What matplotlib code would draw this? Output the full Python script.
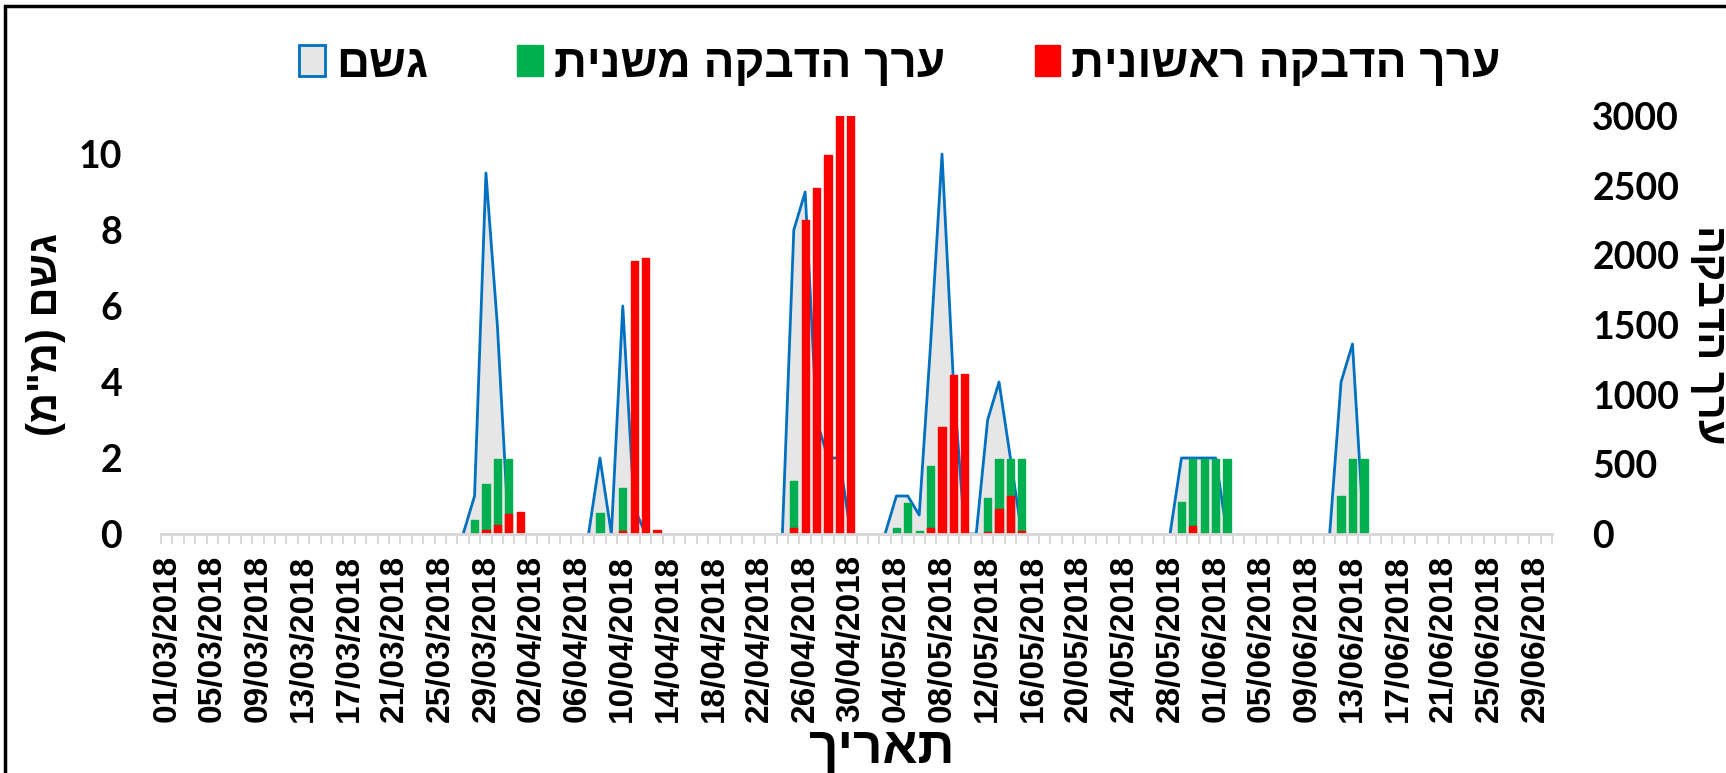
import matplotlib.pyplot as plt
import numpy as np
import pandas as pd
from matplotlib.patches import Patch, Rectangle

# matplotlib has no bidi support, so Hebrew strings are given in visual order
def rtl(s):
    return s[::-1].translate(str.maketrans('()', ')('))

HEB = ['Liberation Sans', 'DejaVu Sans']

dates = pd.date_range('2018-03-01', '2018-06-30', freq='D')
date_labels = [d.strftime('%d/%m/%Y') for d in dates]

# rain (mm), one value per day
rain_mar = [0, 0, 0, 0, 0, 0, 0, 0, 0, 0,
            0, 0, 0, 0, 0, 0, 0, 0, 0, 0,
            0, 0, 0, 0, 0, 0, 0, 1, 9.5, 5.5,
            0]
rain_apr = [0, 0, 0, 0, 0, 0, 0, 2, 0, 6,
            0.7, 0, 0, 0, 0, 0, 0, 0, 0, 0,
            0, 0, 0, 0, 8, 9, 3, 2, 2, 0]
rain_may = [0, 0, 0, 1, 1, 0.5, 5, 10, 4, 0,
            0, 3, 4, 2, 0, 0, 0, 0, 0, 0,
            0, 0, 0, 0, 0, 0, 0, 0, 2, 2,
            2]
rain_jun = [2, 0, 0, 0, 0, 0, 0, 0, 0, 0,
            0, 4, 5, 0, 0, 0, 0, 0, 0, 0,
            0, 0, 0, 0, 0, 0, 0, 0, 0, 0]

# secondary infection value
sec_mar = [0, 0, 0, 0, 0, 0, 0, 0, 0, 0,
           0, 0, 0, 0, 0, 0, 0, 0, 0, 0,
           0, 0, 0, 0, 0, 0, 0, 100, 360, 540,
           540]
sec_apr = [0, 0, 0, 0, 0, 0, 0, 150, 0, 330,
           0, 0, 0, 0, 0, 0, 0, 0, 0, 0,
           0, 0, 0, 0, 380, 0, 0, 0, 0, 0]
sec_may = [0, 0, 0, 40, 220, 25, 490, 0, 0, 0,
           0, 260, 540, 540, 540, 0, 0, 0, 0, 0,
           0, 0, 0, 0, 0, 0, 0, 0, 230, 540,
           540]
sec_jun = [540, 540, 0, 0, 0, 0, 0, 0, 0, 0,
           0, 270, 540, 540, 0, 0, 0, 0, 0, 0,
           0, 0, 0, 0, 0, 0, 0, 0, 0, 0]

# primary infection value
pri_mar = [0, 0, 0, 0, 0, 0, 0, 0, 0, 0,
           0, 0, 0, 0, 0, 0, 0, 0, 0, 0,
           0, 0, 0, 0, 0, 0, 0, 0, 30, 65,
           145]
pri_apr = [155, 0, 0, 0, 0, 0, 0, 0, 0, 20,
           1960, 1980, 30, 0, 0, 0, 0, 0, 0, 0,
           0, 0, 0, 0, 45, 2250, 2480, 2720, 3150, 3150]
pri_may = [0, 0, 0, 0, 0, 0, 40, 770, 1140, 1150,
           0, 15, 180, 270, 25, 0, 0, 0, 0, 0,
           0, 0, 0, 0, 0, 0, 0, 0, 0, 60,
           0]
pri_jun = [0, 0, 0, 0, 0, 0, 0, 0, 0, 0,
           0, 0, 0, 0, 0, 0, 0, 0, 0, 0,
           0, 0, 0, 0, 0, 0, 0, 0, 0, 0]

rain = np.array(rain_mar + rain_apr + rain_may + rain_jun, dtype=float)
secondary = np.array(sec_mar + sec_apr + sec_may + sec_jun, dtype=float)
primary = np.array(pri_mar + pri_apr + pri_may + pri_jun, dtype=float)
x = np.arange(len(dates))

# hide the outline where the rain sits on the axis
prev = np.r_[0, rain[:-1]]
nxt = np.r_[rain[1:], 0]
rain_line = np.ma.masked_where((rain == 0) & (prev == 0) & (nxt == 0), rain)

W_PX, H_PX = 1726, 773
fig = plt.figure(figsize=(W_PX / 100, H_PX / 100), dpi=100)
ax = fig.add_axes([161 / W_PX, 1 - 534 / H_PX, 1391 / W_PX, 418 / H_PX])
ax2 = ax.twinx()

ax.fill_between(x, rain, 0, color='#E7E6E6', lw=0)
ax.plot(x, rain_line, color='#0070C0', lw=2)

bar_w = 0.64
ax2.bar(x, secondary, width=bar_w, color='#00B050', edgecolor='#00B050', lw=1, joinstyle='round')
ax2.bar(x, primary, width=bar_w, color='#FF0000', edgecolor='#FF0000', lw=1, joinstyle='round')

ax.set_xlim(-0.5, len(dates) - 0.5)
ax.set_ylim(0, 11)
ax.set_yticks([0, 2, 4, 6, 8, 10])
ax2.set_ylim(0, 3000)
ax2.set_yticks([0, 500, 1000, 1500, 2000, 2500, 3000])

for a in (ax, ax2):
    for s in ('top', 'left', 'right'):
        a.spines[s].set_visible(False)
    a.spines['bottom'].set_color('#D9D9D9')
    a.spines['bottom'].set_linewidth(2)
    a.tick_params(axis='y', length=0, labelsize=27)
ax.tick_params(axis='y', pad=28)
ax2.tick_params(axis='y', pad=29)
for lab in ax.get_yticklabels() + ax2.get_yticklabels():
    lab.set_fontfamily('Lato')
    lab.set_fontweight('bold')

# day boundaries get tick marks, every 4th day gets a label
ax.set_xticks(np.arange(-0.5, len(dates), 1))
ax.set_xticklabels([])
ax.tick_params(axis='x', which='major', length=7, width=1.5, color='#D9D9D9', direction='out')
ax.set_xticks(x[::4], minor=True)
ax.set_xticklabels(date_labels[::4], minor=True, rotation=90,
                   fontsize=24, fontweight='bold', family='Liberation Sans')
ax.tick_params(axis='x', which='minor', length=0, pad=15)

ax.set_ylabel(rtl('גשם (מ"מ)'), fontsize=30, fontweight='bold', family=HEB)
ax.yaxis.label.set_va('center')
ax.yaxis.set_label_coords(-0.083, 0.477)
ax2.set_ylabel(rtl('ערך הדבקה'), fontsize=30, fontweight='bold', family=HEB, rotation=270)
ax2.yaxis.label.set_va('center')
ax2.yaxis.set_label_coords(1.113, 0.477)
ax.set_xlabel(rtl('תאריך'), fontsize=37, fontweight='bold', family=HEB)
ax.xaxis.label.set_va('center')
ax.xaxis.set_label_coords(0.5176, -0.515)

handles = [Patch(facecolor='#E7E6E6', edgecolor='#0070C0', lw=2),
           Patch(facecolor='#00B050', edgecolor='#00B050'),
           Patch(facecolor='#FF0000', edgecolor='#FF0000')]
labels = [rtl('גשם'), rtl('ערך הדבקה משנית'), rtl('ערך הדבקה ראשונית')]
fig.legend(handles, labels, loc='center', bbox_to_anchor=(900 / W_PX, 1 - 65 / H_PX),
           ncol=3, frameon=False, handlelength=0.55, handleheight=0.66,
           handletextpad=0.25, columnspacing=1.95,
           prop=dict(family=HEB, weight='bold', size=33))

# chart border (runs off the right and bottom edges)
fig.patches.append(Rectangle((5 / W_PX, -0.1), 1.2, 1.1 - 6 / H_PX, transform=fig.transFigure,
                             fill=False, ec='black', lw=2.5))

fig.savefig('out.png', dpi=100)
